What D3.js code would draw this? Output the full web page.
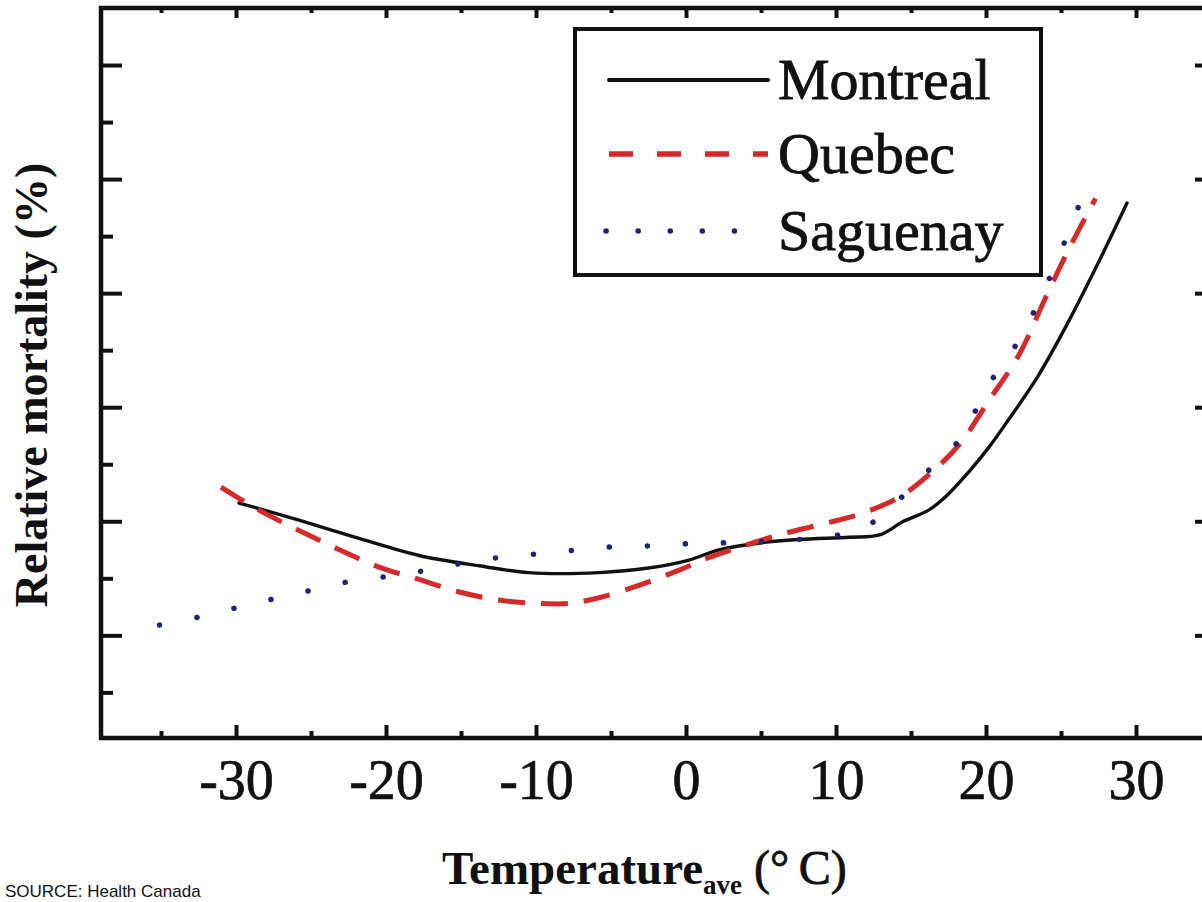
<!DOCTYPE html>
<html>
<head>
<meta charset="utf-8">
<script src="https://cdn.jsdelivr.net/npm/d3@7"></script>
<style>
  html, body { margin: 0; padding: 0; background: #fff; }
  svg { display: block; }
</style>
</head>
<body>
<svg id="chart" width="1202" height="902"></svg>
<script>
// Relative mortality (%) versus mean daily temperature (°C)
const montrealTemp = [-29.8, -25.8, -21.8, -17.8, -13.8, -10.5, -5.8, -2.5, 0.2, 2.2, 4.9, 7.5, 10.9, 12.9, 14.5, 16.2, 17.5, 18.9, 20.2, 21.5, 23.5, 25.5, 27.5, 29.4];
const montrealMort = [101.6, 100.1, 98.5, 97.0, 96.1, 95.5, 95.5, 95.9, 96.6, 97.5, 98.1, 98.4, 98.6, 98.8, 100.0, 101.0, 102.4, 104.4, 106.5, 108.9, 112.8, 117.5, 122.7, 127.9];

const quebecTemp = [-31.0, -28.5, -25.8, -23.1, -20.5, -17.8, -15.1, -12.5, -9.8, -7.8, -5.8, -3.1, -0.5, 1.5, 3.5, 6.2, 8.9, 11.5, 14.2, 16.2, 18.2, 20.2, 22.2, 23.9, 25.5, 27.3];
const quebecMort = [103.0, 101.0, 99.2, 97.5, 96.0, 94.9, 93.8, 93.1, 92.8, 92.8, 93.3, 94.4, 95.7, 96.8, 97.7, 98.8, 99.7, 100.6, 102.1, 104.1, 106.7, 110.6, 114.6, 119.4, 123.8, 128.3];

const saguenayTemp = [-35.1, -32.5, -29.1, -25.8, -22.5, -19.1, -16.5, -13.8, -11.1, -8.5, -5.8, -3.1, -0.5, 2.2, 4.9, 7.5, 10.2, 12.2, 14.2, 16.2, 18.2, 20.2, 22.2, 24.2, 26.2];
const saguenayMort = [90.9, 91.6, 92.7, 93.7, 94.7, 95.3, 95.9, 96.6, 97.0, 97.3, 97.7, 97.8, 98.0, 98.1, 98.2, 98.4, 98.8, 99.7, 101.9, 104.5, 107.1, 112.0, 115.9, 121.2, 127.7];

const cityNames = ["Montreal", "Quebec", "Saguenay"];
const tempTicks = [-30, -20, -10, 0, 10, 20, 30];
const tempMinorTicks = [-35, -25, -15, -5, 5, 15, 25];
const mortTicks = [90, 100, 110, 120, 130, 140];
const mortMinorTicks = [85, 95, 105, 115, 125, 135];

const serif = "'Liberation Serif', 'Times New Roman', serif";
const svg = d3.select("#chart");

const x = d3.scaleLinear().domain([-39, 35]).range([101, 1211]);
const y = d3.scaleLinear().domain([81, 145]).range([738, 8]);

const styles = {
  Montreal: { color: "#111111", width: 3.4, dash: null,     cap: "round" },
  Quebec:   { color: "#d42a2a", width: 5,   dash: "27 16",  cap: "butt" },
  Saguenay: { color: "#1d2470", width: 5.5, dash: "0.1 38", cap: "round" }
};

const series = [
  { name: cityNames[0], pts: montrealTemp.map((t, i) => [t, montrealMort[i]]) },
  { name: cityNames[1], pts: quebecTemp.map((t, i) => [t, quebecMort[i]]) },
  { name: cityNames[2], pts: saguenayTemp.map((t, i) => [t, saguenayMort[i]]) }
];

// frame
svg.append("rect")
  .attr("x", x(-39)).attr("y", y(145))
  .attr("width", x(35) - x(-39)).attr("height", y(81) - y(145))
  .attr("fill", "none").attr("stroke", "#111").attr("stroke-width", 4.5);

// axes with inward ticks
function styleAxis(g) {
  g.select(".domain").remove();
  g.selectAll("line").attr("stroke", "#111").attr("stroke-width", 4);
}

svg.append("g").attr("transform", `translate(0,${y(81)})`)
  .call(d3.axisBottom(x).tickValues(tempMinorTicks).tickSize(-7).tickFormat(""))
  .call(styleAxis);
svg.append("g").attr("transform", `translate(0,${y(81)})`)
  .call(d3.axisBottom(x).tickValues(tempTicks).tickSize(-13).tickPadding(21)
        .tickFormat(d => d))
  .call(styleAxis)
  .call(g => g.selectAll("text")
    .attr("font-family", serif).attr("font-size", 56)
    .attr("fill", "#111").attr("stroke", "#111").attr("stroke-width", 0.7));

svg.append("g").attr("transform", `translate(0,${y(145)})`)
  .call(d3.axisTop(x).tickValues(tempTicks).tickSize(-10).tickFormat(""))
  .call(styleAxis);
svg.append("g").attr("transform", `translate(0,${y(145)})`)
  .call(d3.axisTop(x).tickValues(tempMinorTicks).tickSize(-5).tickFormat(""))
  .call(styleAxis);

svg.append("g").attr("transform", `translate(${x(-39)},0)`)
  .call(d3.axisLeft(y).tickValues(mortTicks).tickSize(-21).tickFormat(""))
  .call(styleAxis);
svg.append("g").attr("transform", `translate(${x(-39)},0)`)
  .call(d3.axisLeft(y).tickValues(mortMinorTicks).tickSize(-12).tickFormat(""))
  .call(styleAxis);

svg.append("g").attr("transform", `translate(${x(35)},0)`)
  .call(d3.axisRight(y).tickValues(mortTicks).tickSize(-16).tickFormat(""))
  .call(styleAxis);

// curves
const line = d3.line()
  .x(d => x(d[0])).y(d => y(d[1]))
  .curve(d3.curveCatmullRom.alpha(0.5));

svg.append("g").selectAll("path").data(series).join("path")
  .attr("d", d => line(d.pts))
  .attr("fill", "none")
  .attr("stroke", d => styles[d.name].color)
  .attr("stroke-width", d => styles[d.name].width)
  .attr("stroke-dasharray", d => styles[d.name].dash)
  .attr("stroke-linecap", d => styles[d.name].cap)
  .attr("stroke-linejoin", "round");

// legend
const legend = svg.append("g");
legend.append("rect")
  .attr("x", 575).attr("y", 29).attr("width", 466).attr("height", 246)
  .attr("fill", "#fff").attr("stroke", "#111").attr("stroke-width", 4);

const legendRows = legend.selectAll("g.row").data(cityNames).join("g")
  .attr("class", "row")
  .attr("transform", (d, i) => `translate(0,${[80, 154, 231][i]})`);

legendRows.append("line")
  .attr("x1", d => d === "Saguenay" ? 606 : 609)
  .attr("x2", d => d === "Saguenay" ? 736 : 768)
  .attr("y1", 0).attr("y2", 0)
  .attr("stroke", d => styles[d].color)
  .attr("stroke-width", d => d === "Montreal" ? 4 : 5.5)
  .attr("stroke-dasharray", d => d === "Quebec" ? "24 24" : (d === "Saguenay" ? "0.1 32" : null))
  .attr("stroke-linecap", d => styles[d].cap);

legendRows.append("text")
  .attr("x", 778).attr("y", 19)
  .attr("font-family", serif)
  .attr("font-size", 58).attr("fill", "#111")
  .attr("stroke", "#111").attr("stroke-width", 0.8)
  .text(d => d);

// axis titles
const xTitle = svg.append("text")
  .attr("x", 442).attr("y", 884)
  .attr("font-family", serif)
  .attr("fill", "#111");
xTitle.append("tspan").attr("font-size", 47).attr("font-weight", "bold").text("Temperature");
xTitle.append("tspan").attr("font-size", 27).attr("font-weight", "bold").attr("dy", 10).text("ave");
xTitle.append("tspan").attr("font-size", 48).attr("dy", -10).attr("dx", 12)
  .attr("stroke", "#111").attr("stroke-width", 0.8)
  .text("(°\u2009C)");

svg.append("text")
  .attr("transform", "translate(47,385) rotate(-90)")
  .attr("text-anchor", "middle")
  .attr("font-family", serif)
  .attr("font-size", 46).attr("font-weight", "bold").attr("fill", "#111")
  .text("Relative mortality (%)");

svg.append("text")
  .attr("x", 5).attr("y", 897)
  .attr("font-family", "'Liberation Sans', Arial, sans-serif")
  .attr("font-size", 17).attr("fill", "#111")
  .text("SOURCE: Health Canada");
</script>
</body>
</html>
